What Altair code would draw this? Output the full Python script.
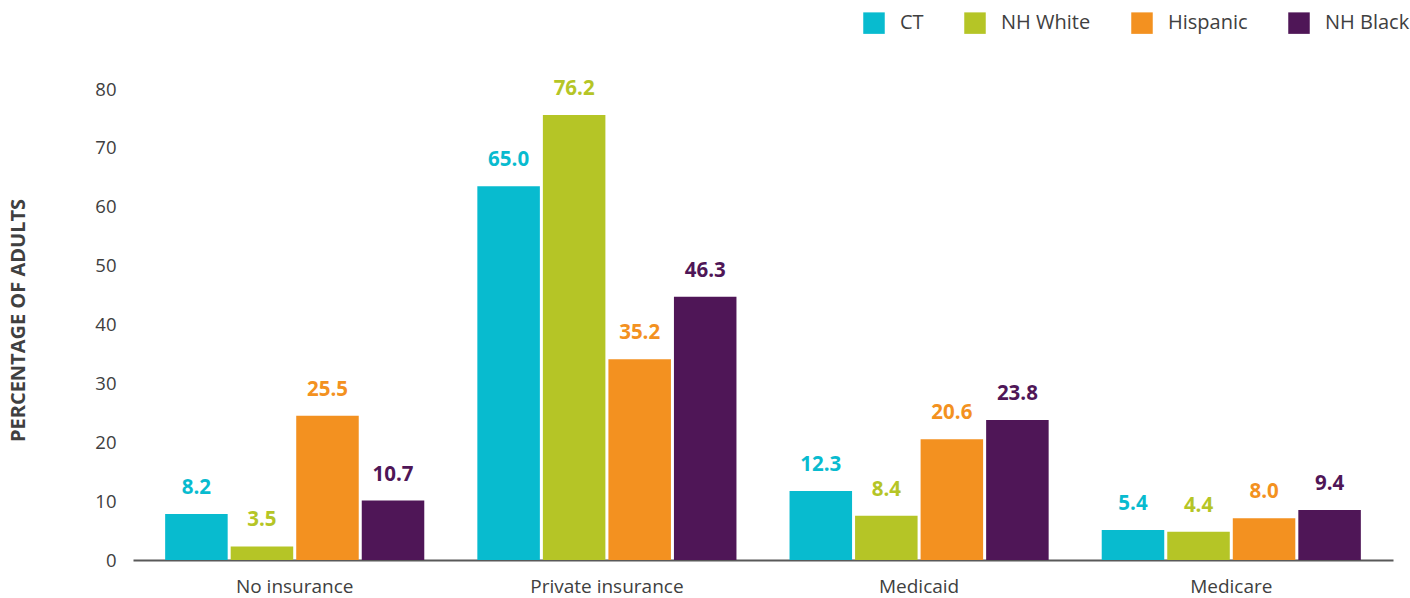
import altair as alt
import pandas as pd

categories = ["No insurance", "Private insurance", "Medicaid", "Medicare"]
series = ["CT", "NH White", "Hispanic", "NH Black"]
colors = ["#08BBCF", "#B5C526", "#F39120", "#4F1657"]

# bar heights as drawn in the picture
bar_ct = [7.8, 63.5, 11.7, 5.1]
bar_white = [2.3, 75.6, 7.5, 4.8]
bar_hisp = [24.5, 34.1, 20.5, 7.1]
bar_black = [10.1, 44.7, 23.8, 8.5]

# printed data labels
lab_ct = ["8.2", "65.0", "12.3", "5.4"]
lab_white = ["3.5", "76.2", "8.4", "4.4"]
lab_hisp = ["25.5", "35.2", "20.6", "8.0"]
lab_black = ["10.7", "46.3", "23.8", "9.4"]

bars = [bar_ct, bar_white, bar_hisp, bar_black]
labs = [lab_ct, lab_white, lab_hisp, lab_black]

rows = []
for s, vals, ls in zip(series, bars, labs):
    for c, v, l in zip(categories, vals, ls):
        rows.append({"category": c, "series": s, "value": v, "label": l})
df = pd.DataFrame(rows)

FONT = "Open Sans"
GRAY = "#404040"

x_enc = alt.X(
    "category:N",
    sort=categories,
    scale=alt.Scale(paddingInner=0.17, paddingOuter=0.103),
    axis=alt.Axis(
        title=None,
        labelAngle=0,
        labelFontSize=19,
        labelColor=GRAY,
        labelFont=FONT,
        labelPadding=17,
        ticks=False,
        domainColor="#595959",
        domainWidth=2,
    ),
)
xoff_enc = alt.XOffset("series:N", sort=series, scale=alt.Scale(paddingInner=0.046))
y_enc = alt.Y(
    "value:Q",
    scale=alt.Scale(domain=[0, 80], nice=False),
    axis=alt.Axis(
        values=[0, 10, 20, 30, 40, 50, 60, 70, 80],
        title="PERCENTAGE OF ADULTS",
        titleFont=FONT,
        titleFontSize=20,
        titleFontWeight="bold",
        titleColor=GRAY,
        titleAngle=-90,
        titleX=-115,
        titleY=231,
        titleAlign="center",
        titleBaseline="middle",
        labelFontSize=18.5,
        labelColor=GRAY,
        labelFont=FONT,
        labelPadding=17,
        ticks=False,
        domain=False,
        grid=False,
    ),
)
color_scale = alt.Scale(domain=series, range=colors)

bar_layer = alt.Chart(df).mark_bar().encode(
    x=x_enc,
    xOffset=xoff_enc,
    y=y_enc,
    color=alt.Color(
        "series:N",
        scale=color_scale,
        sort=series,
        legend=alt.Legend(
            title=None,
            orient="none",
            direction="horizontal",
            legendX=730,
            legendY=-77,
            padding=0,
            symbolType="square",
            symbolSize=462,
            symbolStrokeWidth=0,
            labelFontSize=20,
            labelFont=FONT,
            labelColor=GRAY,
            labelOffset=15,
            columnPadding=40,
        ),
    ),
)

text_layer = alt.Chart(df).mark_text(
    font=FONT, fontSize=20.5, fontWeight="bold", baseline="middle", dy=-26
).encode(
    x=alt.X("category:N", sort=categories),
    xOffset=alt.XOffset("series:N", sort=series),
    y=alt.Y("value:Q"),
    text="label:N",
    color=alt.Color("series:N", scale=color_scale, sort=series, legend=None),
)

chart = (
    alt.layer(bar_layer, text_layer)
    .properties(
        width=1260,
        height=471,
        autosize=alt.AutoSizeParams(type="none"),
        padding={"left": 133, "top": 89, "right": 17, "bottom": 38},
        view=alt.ViewBackground(stroke="transparent", strokeWidth=0),
    )
    .configure_view(stroke="transparent", strokeWidth=0)
    .configure(background="white")
)

chart.save("out.html", embed_options={"renderer": "svg", "actions": False})
